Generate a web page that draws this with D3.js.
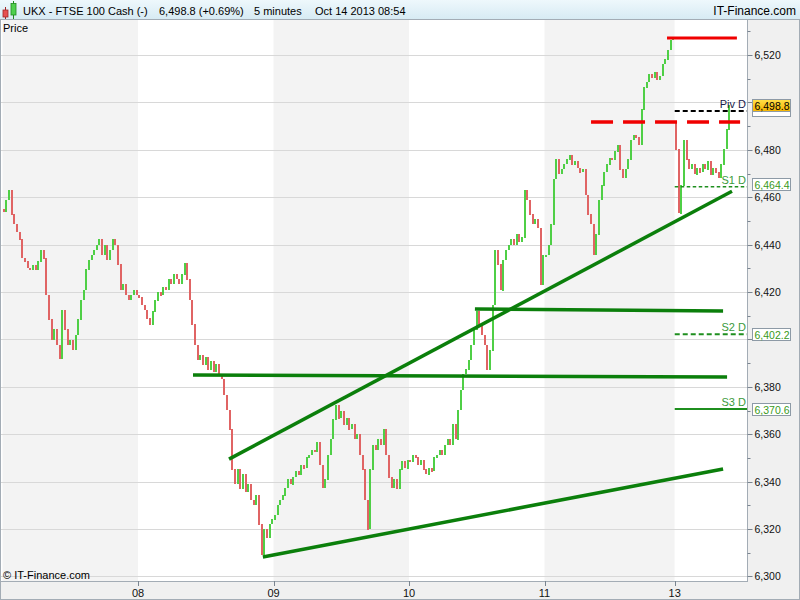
<!DOCTYPE html>
<html><head><meta charset="utf-8">
<script src="https://cdn.jsdelivr.net/npm/d3@7"></script>
<style>
body{margin:0;background:#fff}
svg{display:block}
text{font-family:"Liberation Sans",Arial,sans-serif}
</style>
</head><body>
<svg id="c" width="800" height="600"></svg>
<script>
// ---------------- data ----------------
const dayLabels = ["07", "08", "09", "10", "11", "13"];
const dayOpens = [6455.0, 6418.7, 6323.8, 6349.1, 6435.6, 6491.5];
const closesOct07 = [6453.8, 6458.8, 6463.0, 6452.5, 6448.3, 6445.3, 6442.0, 6434.3, 6432.7, 6430.1, 6429.3, 6431.0, 6429.3, 6432.7, 6437.7, 6434.3, 6418.7, 6408.2, 6399.7, 6404.0, 6397.6, 6392.0, 6412.4, 6404.0, 6397.6, 6399.7, 6395.5, 6401.8, 6408.2, 6416.6, 6420.8, 6429.3, 6433.5, 6435.6, 6437.7, 6439.8, 6442.0, 6435.6, 6439.8, 6433.5, 6437.7, 6442.0, 6439.8, 6431.4, 6420.8, 6423.0, 6418.7, 6416.6, 6418.7, 6420.8, 6418.7];
const closesOct08 = [6417.5, 6414.5, 6412.4, 6409.0, 6406.1, 6411.6, 6416.6, 6420.0, 6418.7, 6421.7, 6420.8, 6425.1, 6423.0, 6427.2, 6425.1, 6423.0, 6427.2, 6432.2, 6425.1, 6416.6, 6406.1, 6397.6, 6391.3, 6393.4, 6389.2, 6392.2, 6387.1, 6390.5, 6386.2, 6389.2, 6385.0, 6382.9, 6376.5, 6370.2, 6361.8, 6344.9, 6338.6, 6344.9, 6336.5, 6342.8, 6335.6, 6338.6, 6332.2, 6330.1, 6334.3, 6321.7, 6309.0, 6319.6, 6316.2, 6321.7, 6323.8];
const closesOct09 = [6325.9, 6330.1, 6332.2, 6334.3, 6337.3, 6340.7, 6338.6, 6341.6, 6344.1, 6342.8, 6347.0, 6345.7, 6350.0, 6351.2, 6353.3, 6352.5, 6356.7, 6347.0, 6337.3, 6340.7, 6351.2, 6357.6, 6366.0, 6372.3, 6366.8, 6369.4, 6363.9, 6366.8, 6361.8, 6363.9, 6357.6, 6359.7, 6351.2, 6344.9, 6332.2, 6319.6, 6344.9, 6355.4, 6353.3, 6357.6, 6355.4, 6361.8, 6351.2, 6341.6, 6337.3, 6340.7, 6336.5, 6344.9, 6348.3, 6345.7, 6349.1];
const closesOct10 = [6348.3, 6351.2, 6350.0, 6347.0, 6349.1, 6344.9, 6342.8, 6345.7, 6344.1, 6350.0, 6351.2, 6353.3, 6351.2, 6355.4, 6357.6, 6355.4, 6363.9, 6357.6, 6370.2, 6378.6, 6385.0, 6387.1, 6391.3, 6397.6, 6404.0, 6411.6, 6406.1, 6401.8, 6397.6, 6387.1, 6395.5, 6414.5, 6437.7, 6431.4, 6420.8, 6433.5, 6437.7, 6439.8, 6442.0, 6439.8, 6444.1, 6441.1, 6442.8, 6463.0, 6458.8, 6452.5, 6448.3, 6450.4, 6447.0, 6423.0, 6435.6];
const closesOct11 = [6435.6, 6439.8, 6448.3, 6467.3, 6475.7, 6469.4, 6471.5, 6473.6, 6475.7, 6477.8, 6473.6, 6474.9, 6472.3, 6470.6, 6471.5, 6460.9, 6452.5, 6448.3, 6435.6, 6444.1, 6458.8, 6465.1, 6470.6, 6473.6, 6476.5, 6475.7, 6479.1, 6482.0, 6471.5, 6468.1, 6471.5, 6475.7, 6484.1, 6486.2, 6485.0, 6482.0, 6496.8, 6506.1, 6508.6, 6511.6, 6510.3, 6512.8, 6509.5, 6511.1, 6515.8, 6517.9, 6522.1, 6526.3, 6527.2];
const closesOct14 = [6480.0, 6453.0, 6465.1, 6484.1, 6475.7, 6471.5, 6473.6, 6469.4, 6472.3, 6470.6, 6473.6, 6471.5, 6474.9, 6469.4, 6472.3, 6470.6, 6468.1, 6473.6, 6480.0, 6488.4, 6498.8];
const dayCloses = [closesOct07, closesOct08, closesOct09, closesOct10, closesOct11, closesOct14];

const yTicks = [6300, 6320, 6340, 6360, 6380, 6400, 6420, 6440, 6460, 6480, 6500, 6520];
const yMinorTicks = [6310, 6330, 6350, 6370, 6390, 6410, 6430, 6450, 6470, 6490, 6510, 6530];

// trend lines: [slotStart, priceStart, slotEnd, priceEnd]
const greenLines = [
  [85.25, 6349.5, 274.55, 6462.5],
  [71.7, 6385.0, 272.7, 6384.1],
  [177.8, 6412.8, 271.2, 6412.0],
  [98.0, 6308.2, 271.2, 6345.3]
];
const redSolid = [250.1, 6527.2, 276.4, 6527.2];
const redDashed = [221.5, 6491.7, 277.6, 6491.7];

// daily pivot levels
const pivotNames = ["Piv D", "S1 D", "S2 D", "S3 D"];
const pivotValues = [6496.4, 6464.4, 6402.2, 6370.6];
const lastPrice = 6498.8;

// ---------------- layout ----------------
const svg = d3.select("#c");
const L = 1, R = 747, T = 20, B = 581;
const slotView = 280.2;
const x = d3.scaleLinear().domain([0, slotView]).range([2.5, R]);
const y = d3.scaleLinear().domain([6298.06, 6534.77]).range([B, T]);

svg.append("rect").attr("x", 0).attr("y", 0).attr("width", 800).attr("height", 600).attr("fill", "#f0f0f0");
svg.append("rect").attr("x", L).attr("y", T).attr("width", R - L).attr("height", B - T).attr("fill", "#fff");

const dayStarts = [];
let acc = 0;
dayCloses.forEach(a => { dayStarts.push(acc); acc += a.length; });

const defs = svg.append("defs");
defs.append("clipPath").attr("id", "plot").append("rect")
  .attr("x", L).attr("y", T).attr("width", R - L).attr("height", B - T);
const hg = defs.append("linearGradient").attr("id", "hdr").attr("x1", 0).attr("x2", 0).attr("y1", 0).attr("y2", 1);
hg.append("stop").attr("offset", "0").attr("stop-color", "#eef8fc");
hg.append("stop").attr("offset", "1").attr("stop-color", "#d6eaf3");
const yg = defs.append("linearGradient").attr("id", "ylw").attr("x1", 0).attr("x2", 0).attr("y1", 0).attr("y2", 1);
yg.append("stop").attr("offset", "0").attr("stop-color", "#ffe04a");
yg.append("stop").attr("offset", "1").attr("stop-color", "#f5b400");

const plot = svg.append("g").attr("clip-path", "url(#plot)");

dayStarts.forEach((s, i) => {
  const x0 = Math.max(L, x(s));
  const x1 = i < dayStarts.length - 1 ? x(dayStarts[i + 1]) : R;
  plot.append("rect").attr("x", x0).attr("y", T).attr("width", x1 - x0).attr("height", B - T)
    .attr("fill", i % 2 === 0 ? "#f3f3f3" : "#ffffff");
});

plot.selectAll(".grid").data(yTicks).enter().append("line")
  .attr("x1", L).attr("x2", R)
  .attr("y1", d => Math.round(y(d)) + 0.5).attr("y2", d => Math.round(y(d)) + 0.5)
  .attr("stroke", "#d8d8d8").attr("stroke-width", 1);

const bars = [];
dayCloses.forEach((arr, di) => {
  arr.forEach((c, k) => {
    const o = k === 0 ? dayOpens[di] : arr[k - 1];
    bars.push({ slot: dayStarts[di] + k, o, c });
  });
});
plot.selectAll(".bar").data(bars).enter().append("rect")
  .attr("x", d => Math.round(x(d.slot + 0.5)) - 1)
  .attr("width", 2)
  .attr("y", d => Math.floor(y(Math.max(d.o, d.c))))
  .attr("height", d => Math.max(2, Math.ceil(Math.abs(y(d.o) - y(d.c)))))
  .attr("fill", d => d.c >= d.o ? "#4fcf46" : "#e06464")
  .attr("shape-rendering", "crispEdges");

const pivotStyles = [
  { color: "#000", width: 2, dash: "5,3", text: "#1a1a4a" },
  { color: "#1f8f1f", width: 1.5, dash: "3.5,2.5", text: "#3a9a3a" },
  { color: "#1f8f1f", width: 2, dash: "5,3", text: "#3a9a3a" },
  { color: "#1f8f1f", width: 2, dash: null, text: "#3a9a3a" }
];
const pivStart = x(dayStarts[5]);
pivotValues.forEach((v, i) => {
  const st = pivotStyles[i];
  const ln = plot.append("line").attr("x1", pivStart).attr("x2", R)
    .attr("y1", y(v)).attr("y2", y(v))
    .attr("stroke", st.color).attr("stroke-width", st.width);
  if (st.dash) ln.attr("stroke-dasharray", st.dash);
  plot.append("text").attr("x", R - 1).attr("y", y(v) - 3).attr("text-anchor", "end")
    .attr("font-size", 11).attr("fill", st.text).text(pivotNames[i]);
});

plot.append("line")
  .attr("x1", x(redSolid[0])).attr("y1", y(redSolid[1]))
  .attr("x2", x(redSolid[2])).attr("y2", y(redSolid[3]))
  .attr("stroke", "#f00000").attr("stroke-width", 3);
plot.append("line")
  .attr("x1", x(redDashed[0])).attr("y1", y(redDashed[1]))
  .attr("x2", x(redDashed[2])).attr("y2", y(redDashed[3]))
  .attr("stroke", "#f00000").attr("stroke-width", 3.5).attr("stroke-dasharray", "22,10");

plot.selectAll(".tl").data(greenLines).enter().append("line")
  .attr("x1", d => x(d[0])).attr("y1", d => y(d[1]))
  .attr("x2", d => x(d[2])).attr("y2", d => y(d[3]))
  .attr("stroke", "#0b7f0b").attr("stroke-width", 3.5);

const frame = "#a3acb5";
svg.append("line").attr("x1", 0.5).attr("x2", 0.5).attr("y1", T).attr("y2", 600).attr("stroke", frame);
svg.append("line").attr("x1", R + 0.5).attr("x2", R + 0.5).attr("y1", T).attr("y2", B + 1).attr("stroke", frame);
svg.append("line").attr("x1", 0).attr("x2", R + 1).attr("y1", B + 0.5).attr("y2", B + 0.5).attr("stroke", frame);
svg.append("line").attr("x1", 799.5).attr("x2", 799.5).attr("y1", 0).attr("y2", 600).attr("stroke", frame);
svg.append("line").attr("x1", 0).attr("x2", 800).attr("y1", 599.5).attr("y2", 599.5).attr("stroke", frame);

// right axis
const boxedValues = [lastPrice].concat(pivotValues);
const yAxis = svg.append("g").attr("transform", `translate(${R + 0.5},0)`);
yAxis.selectAll(".maj").data(yTicks).enter().append("line")
  .attr("x1", 0).attr("x2", 5)
  .attr("y1", d => Math.round(y(d)) + 0.5).attr("y2", d => Math.round(y(d)) + 0.5)
  .attr("stroke", "#7a8590");
yAxis.selectAll(".min").data(yMinorTicks.filter(v => y(v) > T)).enter().append("line")
  .attr("x1", 0).attr("x2", 3)
  .attr("y1", d => Math.round(y(d)) + 0.5).attr("y2", d => Math.round(y(d)) + 0.5)
  .attr("stroke", "#7a8590");
const fmt = d3.format(",");
// tick labels hidden behind the value boxes are not drawn
const visibleTicks = yTicks.filter(t => boxedValues.every(b => Math.abs(y(b) - y(t)) > 7));
yAxis.selectAll(".lab").data(visibleTicks).enter().append("text")
  .attr("x", 7).attr("y", d => y(d) + 4).attr("font-size", 10.5).attr("fill", "#111")
  .text(d => fmt(d));

function valueBox(v, fill, textColor, label) {
  let cy = y(v);
  // nudge a box away from a tick label lying just under it
  visibleTicks.forEach(t => {
    const d = y(t) - cy;
    if (d > 0 && d < 13) cy -= (13 - d);
  });
  const top = Math.round(cy - 6.5) + 0.5;
  svg.append("rect").attr("x", 752.5).attr("y", top).attr("width", 38).attr("height", 12)
    .attr("fill", fill).attr("stroke", "#8d9aa6");
  if (label) svg.append("text").attr("x", 754.5).attr("y", top + 10).attr("font-size", 10.5).attr("fill", textColor)
    .text(d3.format(",.1f")(v));
}
valueBox(pivotValues[0], "#fff", "#111", false);
valueBox(pivotValues[1], "#fff", "#3a9a1a", true);
valueBox(pivotValues[2], "#fff", "#3a9a1a", true);
valueBox(pivotValues[3], "#fff", "#3a9a1a", true);
valueBox(lastPrice, "url(#ylw)", "#000", true);

// bottom axis
const xt = dayStarts.slice(1);
svg.selectAll(".xt").data(xt).enter().append("line")
  .attr("x1", d => Math.round(x(d)) + 0.5).attr("x2", d => Math.round(x(d)) + 0.5)
  .attr("y1", B).attr("y2", B + 5).attr("stroke", "#7a8590");
svg.selectAll(".xl").data(xt).enter().append("text")
  .attr("x", d => x(d)).attr("y", 597).attr("text-anchor", "middle")
  .attr("font-size", 11).attr("fill", "#111")
  .text((d, i) => dayLabels[i + 1]);

// header
svg.append("rect").attr("x", 0).attr("y", 0).attr("width", 800).attr("height", 20).attr("fill", "url(#hdr)");
svg.append("line").attr("x1", 0).attr("x2", 800).attr("y1", 19.5).attr("y2", 19.5).attr("stroke", frame);
svg.append("line").attr("x1", 5.5).attr("x2", 5.5).attr("y1", 7).attr("y2", 19).attr("stroke", "#a02828");
svg.append("rect").attr("x", 3).attr("y", 10).attr("width", 5).attr("height", 7).attr("fill", "#e65050").attr("stroke", "#a02828").attr("stroke-width", 0.8);
svg.append("line").attr("x1", 13.5).attr("x2", 13.5).attr("y1", 1).attr("y2", 19).attr("stroke", "#1f8a1f");
svg.append("rect").attr("x", 11).attr("y", 3.5).attr("width", 5).attr("height", 11.5).attr("fill", "#4fd04f").attr("stroke", "#1f8a1f").attr("stroke-width", 0.8);

const hdrTexts = [["UKX - FTSE 100 Cash (-)", 23], ["6,498.8 (+0.69%)", 159], ["5 minutes", 254], ["Oct 14 2013 08:54", 315]];
svg.selectAll(".ht").data(hdrTexts).enter().append("text")
  .attr("x", d => d[1]).attr("y", 15).attr("font-size", 11).attr("fill", "#000").text(d => d[0]);
svg.append("text").attr("x", 796).attr("y", 15).attr("text-anchor", "end").attr("font-size", 12).attr("fill", "#000").text("IT-Finance.com");

svg.append("text").attr("x", 3).attr("y", 32).attr("font-size", 11).attr("fill", "#000").text("Price");
svg.append("text").attr("x", 3).attr("y", 579).attr("font-size", 11).attr("fill", "#000").text("© IT-Finance.com");
</script>
</body></html>
